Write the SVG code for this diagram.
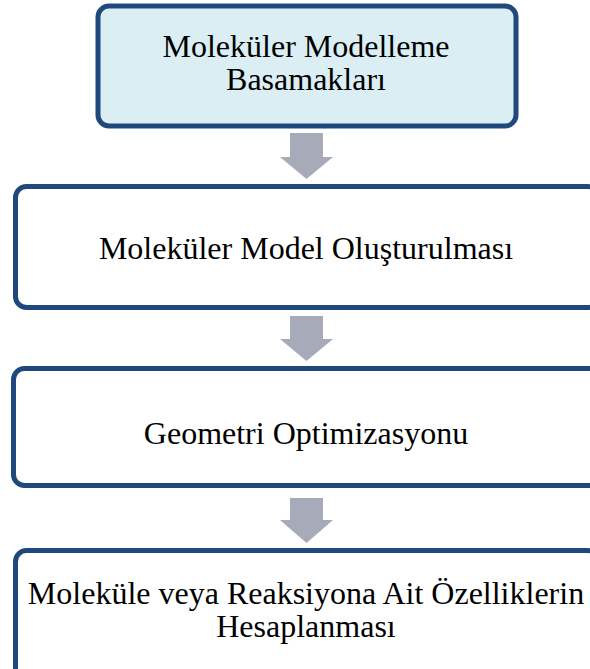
<svg xmlns="http://www.w3.org/2000/svg" width="590" height="669" viewBox="0 0 590 669">
<style>
.box{fill:#ffffff;stroke:#1F497D;stroke-width:5}
.top{fill:#DAEEF3}
.lbl{font-family:"Liberation Serif","Times New Roman",serif;font-size:32px;fill:#000;text-anchor:middle}
.arr{fill:#A6AAB9}
</style>
<rect width="590" height="669" fill="#ffffff"/>
<g id="connectors">
<polygon class="arr" points="290,133 323,133 323,157 333,157 306.5,179 280,157 290,157"/>
<polygon class="arr" points="290,316 323,316 323,339 333,339 306.5,361 280,339 290,339"/>
<polygon class="arr" points="290,498 323,498 323,520 333,520 306.5,543 280,520 290,520"/>
</g>
<g id="node-basamaklar">
<rect class="box top" x="98" y="6" width="418" height="120" rx="11"/>
<text class="lbl" x="306" y="57">Moleküler Modelleme</text>
<text class="lbl" x="306" y="90">Basamakları</text>
</g>
<g id="node-model">
<rect class="box" x="15.5" y="186.5" width="583" height="121" rx="11"/>
<text class="lbl" x="306" y="259">Moleküler Model Oluşturulması</text>
</g>
<g id="node-geometri">
<rect class="box" x="13.5" y="368.5" width="587" height="117" rx="11"/>
<text class="lbl" x="306" y="444">Geometri Optimizasyonu</text>
</g>
<g id="node-ozellik">
<rect class="box" x="15.5" y="550.5" width="583" height="140" rx="11"/>
<text class="lbl" x="306" y="604">Moleküle veya Reaksiyona Ait Özelliklerin</text>
<text class="lbl" x="306" y="637">Hesaplanması</text>
</g>
</svg>
